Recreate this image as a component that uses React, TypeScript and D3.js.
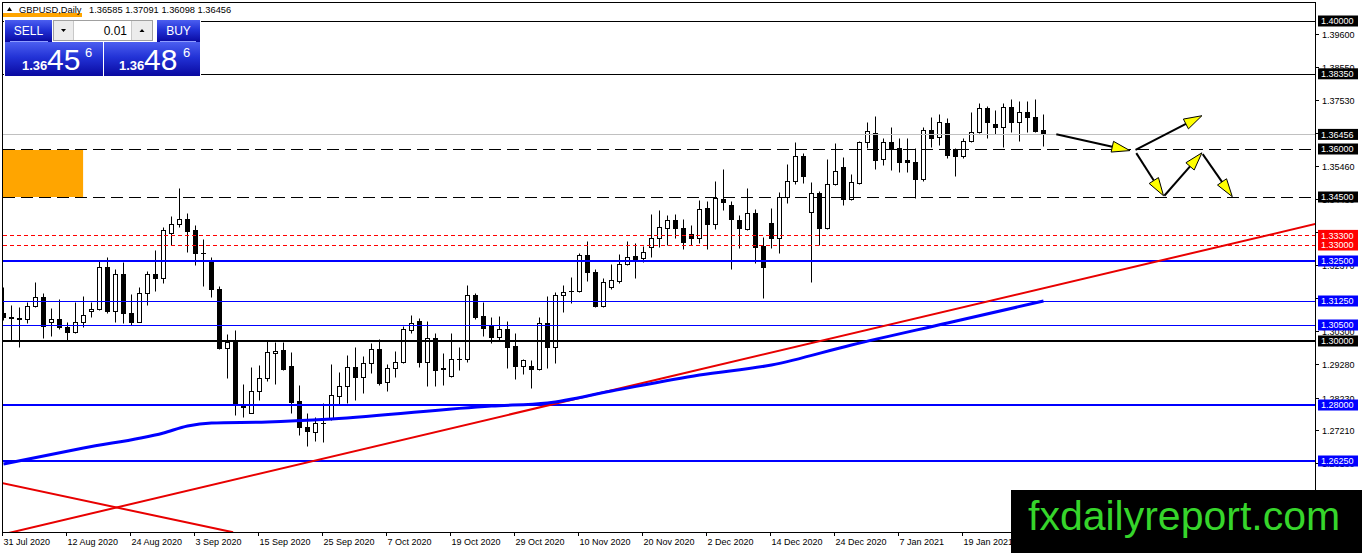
import React from 'react';
import * as d3 from 'd3';

// ---------- DATA ----------
const dateLabels = ['31 Jul 2020', '12 Aug 2020', '24 Aug 2020', '3 Sep 2020', '15 Sep 2020', '25 Sep 2020', '7 Oct 2020', '19 Oct 2020', '29 Oct 2020', '10 Nov 2020', '20 Nov 2020', '2 Dec 2020', '14 Dec 2020', '24 Dec 2020', '7 Jan 2021', '19 Jan 2021'];
const barsPerLabel = 8;

const opens = [1.30875, 1.30759, 1.30728, 1.30678, 1.31094, 1.31366, 1.30584, 1.30678, 1.30428, 1.30291, 1.30603, 1.30928, 1.30991, 1.32322, 1.30947, 1.32084, 1.30866, 1.30603, 1.31491, 1.32084, 1.31959, 1.33366, 1.33647, 1.33803, 1.33469, 1.32759, 1.32509, 1.31625, 1.29772, 1.30009, 1.27991, 1.27759, 1.28438, 1.28834, 1.29616, 1.29719, 1.29219, 1.28125, 1.27322, 1.27166, 1.27428, 1.27572, 1.28291, 1.28594, 1.29197, 1.28866, 1.29303, 1.2975, 1.28728, 1.29147, 1.29334, 1.30344, 1.30634, 1.29334, 1.30084, 1.29125, 1.28916, 1.29428, 1.29428, 1.31438, 1.30781, 1.30478, 1.30134, 1.30375, 1.29844, 1.29228, 1.29228, 1.29116, 1.30553, 1.29822, 1.31438, 1.31563, 1.31572, 1.32688, 1.32166, 1.31094, 1.31697, 1.31884, 1.32397, 1.32656, 1.32584, 1.32928, 1.33209, 1.33522, 1.33781, 1.33522, 1.33334, 1.33209, 1.34147, 1.33647, 1.34428, 1.3425, 1.33781, 1.335, 1.33991, 1.32969, 1.33697, 1.33209, 1.34509, 1.35009, 1.35781, 1.34022, 1.34634, 1.33541, 1.34897, 1.35428, 1.34428, 1.34928, 1.36209, 1.3649, 1.35678, 1.36209, 1.36041, 1.35647, 1.35584, 1.35063, 1.36594, 1.36366, 1.36803, 1.36, 1.35791, 1.36259, 1.36522, 1.37272, 1.36772, 1.36697, 1.37303, 1.36834, 1.37147, 1.36991, 1.36585];
const highs = [1.31688, 1.31125, 1.31072, 1.31228, 1.31834, 1.31491, 1.31022, 1.31313, 1.30603, 1.31228, 1.31406, 1.31228, 1.325, 1.32634, 1.3225, 1.32459, 1.31459, 1.31678, 1.32188, 1.32844, 1.33553, 1.33916, 1.34772, 1.33991, 1.33625, 1.33188, 1.32634, 1.31719, 1.30219, 1.30344, 1.28656, 1.29178, 1.2925, 1.30031, 1.29978, 1.29978, 1.29647, 1.28625, 1.27759, 1.27634, 1.28053, 1.29272, 1.29041, 1.29563, 1.29803, 1.29531, 1.29928, 1.30063, 1.29281, 1.29688, 1.30469, 1.30813, 1.30709, 1.30634, 1.30259, 1.29616, 1.30241, 1.29822, 1.3175, 1.31509, 1.31228, 1.30741, 1.30781, 1.30634, 1.30241, 1.29438, 1.29406, 1.30759, 1.31416, 1.31541, 1.3175, 1.32009, 1.32759, 1.33125, 1.3225, 1.31959, 1.32397, 1.32719, 1.33125, 1.33053, 1.32969, 1.33959, 1.34094, 1.33938, 1.33959, 1.33803, 1.33625, 1.34406, 1.34384, 1.35, 1.35366, 1.34384, 1.33938, 1.34772, 1.34116, 1.33241, 1.34147, 1.34666, 1.35531, 1.36209, 1.35866, 1.34978, 1.34688, 1.35678, 1.36178, 1.35759, 1.35209, 1.3625, 1.36853, 1.37031, 1.36334, 1.36697, 1.36334, 1.36334, 1.36022, 1.36697, 1.36991, 1.37094, 1.36959, 1.36031, 1.36353, 1.37166, 1.37428, 1.37353, 1.37219, 1.37428, 1.37563, 1.375, 1.375, 1.37563, 1.37091];
const lows = [1.30656, 1.30031, 1.29803, 1.30553, 1.31053, 1.30084, 1.30166, 1.30375, 1.30031, 1.30241, 1.30447, 1.30759, 1.30969, 1.30884, 1.30603, 1.30572, 1.305, 1.30584, 1.31125, 1.31572, 1.31822, 1.33, 1.33553, 1.32791, 1.32375, 1.31728, 1.31384, 1.2975, 1.28834, 1.27688, 1.27616, 1.27741, 1.28156, 1.28759, 1.28647, 1.29094, 1.27741, 1.27063, 1.26719, 1.26884, 1.26853, 1.27531, 1.28, 1.28053, 1.28156, 1.28366, 1.28991, 1.28625, 1.28447, 1.28884, 1.29303, 1.30259, 1.29197, 1.28603, 1.28603, 1.28625, 1.28875, 1.29094, 1.29353, 1.30678, 1.30156, 1.29928, 1.30031, 1.29147, 1.28803, 1.28969, 1.28522, 1.29094, 1.29147, 1.29303, 1.30916, 1.31178, 1.31541, 1.31884, 1.31053, 1.31063, 1.31625, 1.31822, 1.32375, 1.31959, 1.32459, 1.32634, 1.32928, 1.33, 1.33209, 1.32875, 1.33, 1.33053, 1.32866, 1.3349, 1.34094, 1.32241, 1.32897, 1.33469, 1.32428, 1.31334, 1.32897, 1.32759, 1.34322, 1.34906, 1.34928, 1.31853, 1.33, 1.3349, 1.34875, 1.3425, 1.34406, 1.34897, 1.36022, 1.35375, 1.355, 1.35344, 1.35272, 1.35272, 1.34478, 1.35009, 1.36072, 1.36125, 1.35709, 1.35166, 1.35728, 1.36209, 1.3649, 1.36334, 1.3646, 1.36072, 1.36541, 1.36259, 1.36541, 1.36541, 1.36098];
const closes = [1.3075, 1.30709, 1.30678, 1.31094, 1.31366, 1.30469, 1.30688, 1.30428, 1.30291, 1.30603, 1.30803, 1.31, 1.32322, 1.30947, 1.32084, 1.30884, 1.30603, 1.31491, 1.32084, 1.31959, 1.33469, 1.33647, 1.33803, 1.33447, 1.32759, 1.32741, 1.31616, 1.29772, 1.29978, 1.28031, 1.27928, 1.28438, 1.28834, 1.29647, 1.29688, 1.29116, 1.28103, 1.27303, 1.27197, 1.27428, 1.27447, 1.28303, 1.28584, 1.29197, 1.28866, 1.29303, 1.2975, 1.28678, 1.29147, 1.29334, 1.30375, 1.30572, 1.29334, 1.30084, 1.29094, 1.29141, 1.29428, 1.29447, 1.31438, 1.30759, 1.30397, 1.30134, 1.30375, 1.29822, 1.29228, 1.29406, 1.29116, 1.30553, 1.29822, 1.31438, 1.31522, 1.31578, 1.32688, 1.32166, 1.31094, 1.31853, 1.31906, 1.32397, 1.32634, 1.32572, 1.32791, 1.33209, 1.33553, 1.33781, 1.33522, 1.33103, 1.33209, 1.34116, 1.33647, 1.34459, 1.34334, 1.33803, 1.33522, 1.33991, 1.32947, 1.32322, 1.33209, 1.34509, 1.35009, 1.35781, 1.35166, 1.34616, 1.33541, 1.34897, 1.35322, 1.34428, 1.34959, 1.36209, 1.36563, 1.35656, 1.36209, 1.36, 1.35603, 1.35594, 1.35063, 1.36594, 1.36334, 1.36834, 1.35813, 1.35791, 1.36259, 1.36522, 1.37272, 1.36834, 1.36697, 1.37303, 1.36834, 1.37147, 1.36991, 1.36572, 1.36456];

// moving average samples (bar index, value)
const maIndex = [0, 10, 20, 23, 26, 33, 41, 61, 68, 76, 87, 96, 106, 118, 130];
const maValues = [1.26156, 1.26656, 1.27125, 1.27344, 1.27438, 1.27469, 1.27563, 1.27969, 1.28063, 1.28438, 1.28938, 1.2925, 1.29875, 1.30563, 1.3125];

// trendlines: [startIndex, startPrice, endIndex, endPrice]
const trendUp = [-0.05, 1.23959, 164.06, 1.33663];
const trendDown = [-0.4, 1.25572, 28.7, 1.24022];

// horizontal levels
const levelPrices = [1.4, 1.3835, 1.36456, 1.36, 1.345, 1.333, 1.33, 1.325, 1.3125, 1.305, 1.3, 1.28, 1.2625];
const levelKinds = ['black', 'black', 'bid', 'dash', 'dash', 'dot', 'dot', 'blueThick', 'blue', 'blue', 'blackThick', 'blueThick', 'blueThick'];

// price axis ticks
const priceTicks = [1.396, 1.3855, 1.3753, 1.365, 1.3546, 1.3443, 1.334, 1.3237, 1.3133, 1.303, 1.2928, 1.2823, 1.2721, 1.2618];

// zone rectangle [fromIndex, toIndex, top, bottom]
const zone = [-0.5, 9.95, 1.36, 1.345];

// projection arrows [fromIndex, fromPrice, toIndex, toPrice]
const arrows = [
  [131.6, 1.3646, 140.8, 1.3595],
  [141.5, 1.3597, 149.8, 1.3704],
  [141.6, 1.3587, 145.0, 1.3454],
  [145.1, 1.3454, 149.8, 1.3588],
  [149.9, 1.3584, 153.6, 1.3451],
];

const symbol = 'GBPUSD,Daily';
const bid = 1.36456;
const ask = 1.36486;
const lotSize = '0.01';
const watermark = 'fxdailyreport.com';

// ---------- STYLES ----------
const FONT = "'Liberation Sans', Arial, sans-serif";
const BLUE = '#0000ff';
const RED = '#ff0000';
const kindStyle: Record<string, { stroke: string; w: number; dash?: string; label: string }> = {
  black: { stroke: '#000', w: 1, label: '#000' },
  bid: { stroke: '#c0c0c0', w: 1, label: '#000' },
  dash: { stroke: '#000', w: 1, dash: '12,6', label: '#000' },
  dot: { stroke: RED, w: 1, dash: '4,3', label: RED },
  blueThick: { stroke: BLUE, w: 2, label: BLUE },
  blue: { stroke: BLUE, w: 1, label: BLUE },
  blackThick: { stroke: '#000', w: 2, label: '#000' },
};

const W = 1362;
const H = 553;
const L = 3;
const R = 1315;
const T = 3;
const B = 532;

export default function App() {
  const x = d3.scaleLinear().domain([0, 164]).range([3.5, 1315.5]);
  const y = d3.scaleLinear().domain([1.3, 1.4]).range([341, 21]);

  const crisp = (v: number) => Math.round(v) + 0.5;

  const maLine = d3
    .line<number>()
    .x((_, i) => x(maIndex[i]))
    .y((v) => y(v))
    .curve(d3.curveMonotoneX)(maValues);

  const arrowEl = (a: number[], k: number) => {
    const x1 = x(a[0]), y1 = y(a[1]), x2 = x(a[2]), y2 = y(a[3]);
    const dx = x2 - x1, dy = y2 - y1;
    const len = Math.hypot(dx, dy);
    const ux = dx / len, uy = dy / len;
    const hl = 18, hw = 5.5;
    const bx = x2 - ux * hl, by = y2 - uy * hl;
    const p = [
      [x2, y2],
      [bx - uy * hw, by + ux * hw],
      [bx + uy * hw, by - ux * hw],
    ];
    return (
      <g key={'a' + k}>
        <line x1={x1} y1={y1} x2={bx} y2={by} stroke="#000" strokeWidth={2} />
        <polygon points={p.map((q) => q.join(',')).join(' ')} fill="#ffff00" stroke="#000" strokeWidth={1} strokeLinejoin="miter" />
      </g>
    );
  };

  const splitPrice = (v: number) => {
    const s = v.toFixed(5);
    return [s.slice(0, 4), s.slice(4, 6), s.slice(6)];
  };
  const bidP = splitPrice(bid);
  const askP = splitPrice(ask);

  return (
    <svg width={W} height={H} style={{ position: 'absolute', left: 0, top: 0, display: 'block', background: '#fff' }} fontFamily={FONT}>
      <defs>
        <clipPath id="plot">
          <rect x={L} y={T} width={R - L} height={B - T} />
        </clipPath>
        <linearGradient id="btn" x1="0" y1="0" x2="0" y2="1">
          <stop offset="0%" stopColor="#4c5ff0" />
          <stop offset="45%" stopColor="#2232d6" />
          <stop offset="100%" stopColor="#0909a0" />
        </linearGradient>
      </defs>
      <rect x={0} y={0} width={W} height={H} fill="#fff" />

      <g clipPath="url(#plot)">
        {/* candles */}
        {opens.map((o, i) => {
          const c = closes[i];
          const cx = x(i);
          const bull = c >= o;
          const top = crisp(y(Math.max(o, c)));
          const bot = crisp(y(Math.min(o, c)));
          return (
            <g key={'c' + i}>
              <line x1={cx} x2={cx} y1={crisp(y(highs[i]))} y2={crisp(y(lows[i]))} stroke="#000" strokeWidth={1} />
              {bot - top < 1 ? (
                <line x1={cx - 2.5} x2={cx + 2.5} y1={top} y2={top} stroke="#000" strokeWidth={1} />
              ) : (
                <rect x={cx - 2} y={top} width={4} height={bot - top} fill={bull ? '#fff' : '#000'} stroke="#000" strokeWidth={1} />
              )}
            </g>
          );
        })}

        {/* horizontal levels */}
        {levelPrices.map((p, i) => {
          const s = kindStyle[levelKinds[i]];
          const yy = s.w === 1 ? crisp(y(p)) : Math.round(y(p));
          return <line key={'l' + i} x1={L} x2={R} y1={yy} y2={yy} stroke={s.stroke} strokeWidth={s.w} strokeDasharray={s.dash} />;
        })}

        {/* zone */}
        <rect x={x(zone[0])} y={y(zone[2]) + 1} width={x(zone[1]) - x(zone[0])} height={y(zone[3]) - y(zone[2]) - 1} fill="#ffa500" />

        {/* trendlines */}
        <line x1={x(trendUp[0])} y1={y(trendUp[1])} x2={x(trendUp[2])} y2={y(trendUp[3])} stroke="#e80000" strokeWidth={2} />
        <line x1={x(trendDown[0])} y1={y(trendDown[1])} x2={x(trendDown[2])} y2={y(trendDown[3])} stroke="#e80000" strokeWidth={2} />

        {/* moving average */}
        <path d={maLine || ''} fill="none" stroke={BLUE} strokeWidth={3} strokeLinejoin="round" />

        {/* arrows */}
        {arrows.map(arrowEl)}
      </g>

      {/* frame */}
      <line x1={2.5} x2={2.5} y1={2.5} y2={B + 0.5} stroke="#000" />
      <line x1={2} x2={R + 1} y1={2.5} y2={2.5} stroke="#000" />
      <line x1={R + 0.5} x2={R + 0.5} y1={2} y2={H} stroke="#000" />
      <line x1={2} x2={R + 1} y1={B + 0.5} y2={B + 0.5} stroke="#000" />

      {/* price axis ticks */}
      {priceTicks.map((p, i) => {
        const yy = crisp(y(p));
        return (
          <g key={'pt' + i}>
            <line x1={R + 1} x2={R + 4} y1={yy} y2={yy} stroke="#000" />
            <text x={1322} y={yy + 3.3} fontSize={9} fill="#000">{p.toFixed(5)}</text>
          </g>
        );
      })}

      {/* level labels */}
      {levelPrices.map((p, i) => {
        const s = kindStyle[levelKinds[i]];
        const yy = y(p);
        return (
          <g key={'ll' + i}>
            <rect x={1318} y={yy - 5.5} width={40} height={11} fill={s.label} />
            <text x={1321} y={yy + 3.3} fontSize={9} fill="#fff">{p.toFixed(5)}</text>
          </g>
        );
      })}

      {/* date axis */}
      {dateLabels.map((d, k) => {
        const tx = Math.floor(x(k * barsPerLabel)) - 0.5;
        return (
          <g key={'d' + k}>
            <line x1={tx} x2={tx} y1={B} y2={B + 4} stroke="#000" />
            <text x={tx + 1} y={545} fontSize={9} fill="#000">{d}</text>
          </g>
        );
      })}

      {/* header */}
      <rect x={3} y={13} width={79} height={4} fill="#ffa500" />
      <polygon points="7,11 12,11 9.5,7" fill="#000" />
      <text x={19} y={12.5} fontSize={9.3} fill="#000">{symbol}</text>
      <text x={89} y={12.5} fontSize={9.3} fill="#000">
        {[opens[opens.length - 1], highs[highs.length - 1], lows[lows.length - 1], closes[closes.length - 1]].map((v) => v.toFixed(5)).join(' ')}
      </text>

      {/* one-click trading panel */}
      <rect x={4} y={19} width={197} height={58} fill="#fff" />
      <rect x={5} y={20} width={47} height={22} fill="url(#btn)" />
      <rect x={157} y={20} width={43} height={22} fill="url(#btn)" />
      <rect x={5} y={42} width={98} height={34} fill="url(#btn)" />
      <rect x={104} y={42} width={96} height={34} fill="url(#btn)" />
      <line x1={10} x2={48} y1={41.5} y2={41.5} stroke="#8d9cff" />
      <line x1={160} x2={196} y1={41.5} y2={41.5} stroke="#8d9cff" />
      <text x={28.5} y={35} fontSize={12} fill="#fff" textAnchor="middle">SELL</text>
      <text x={178.5} y={35} fontSize={12} fill="#fff" textAnchor="middle">BUY</text>
      {/* lot box */}
      <rect x={53.5} y={20.5} width={99} height={20} fill="#fff" stroke="#a0a0a0" />
      <rect x={54} y={21} width={19} height={19} fill="#ececec" />
      <rect x={132} y={21} width={20} height={19} fill="#ececec" />
      <line x1={73.5} x2={73.5} y1={21} y2={40} stroke="#c8c8c8" />
      <line x1={131.5} x2={131.5} y1={21} y2={40} stroke="#c8c8c8" />
      <polygon points="61,29 66,29 63.5,32" fill="#000" />
      <polygon points="139.5,32 144.5,32 142,29" fill="#000" />
      <text x={127} y={35} fontSize={12} fill="#000" textAnchor="end">{lotSize}</text>
      {/* prices */}
      <text x={22} y={70} fontSize={13} fontWeight="bold" fill="#fff">{bidP[0]}</text>
      <text x={47} y={70} fontSize={30} fill="#fff">{bidP[1]}</text>
      <text x={85} y={57} fontSize={13} fill="#fff">{bidP[2]}</text>
      <text x={119} y={70} fontSize={13} fontWeight="bold" fill="#fff">{askP[0]}</text>
      <text x={144} y={70} fontSize={30} fill="#fff">{askP[1]}</text>
      <text x={183} y={57} fontSize={13} fill="#fff">{askP[2]}</text>

      {/* watermark */}
      <rect x={1011} y={490} width={351} height={63} fill="#000" />
      <text x={1028} y={530} fontSize={41} fill="#36d52b">{watermark}</text>
    </svg>
  );
}
